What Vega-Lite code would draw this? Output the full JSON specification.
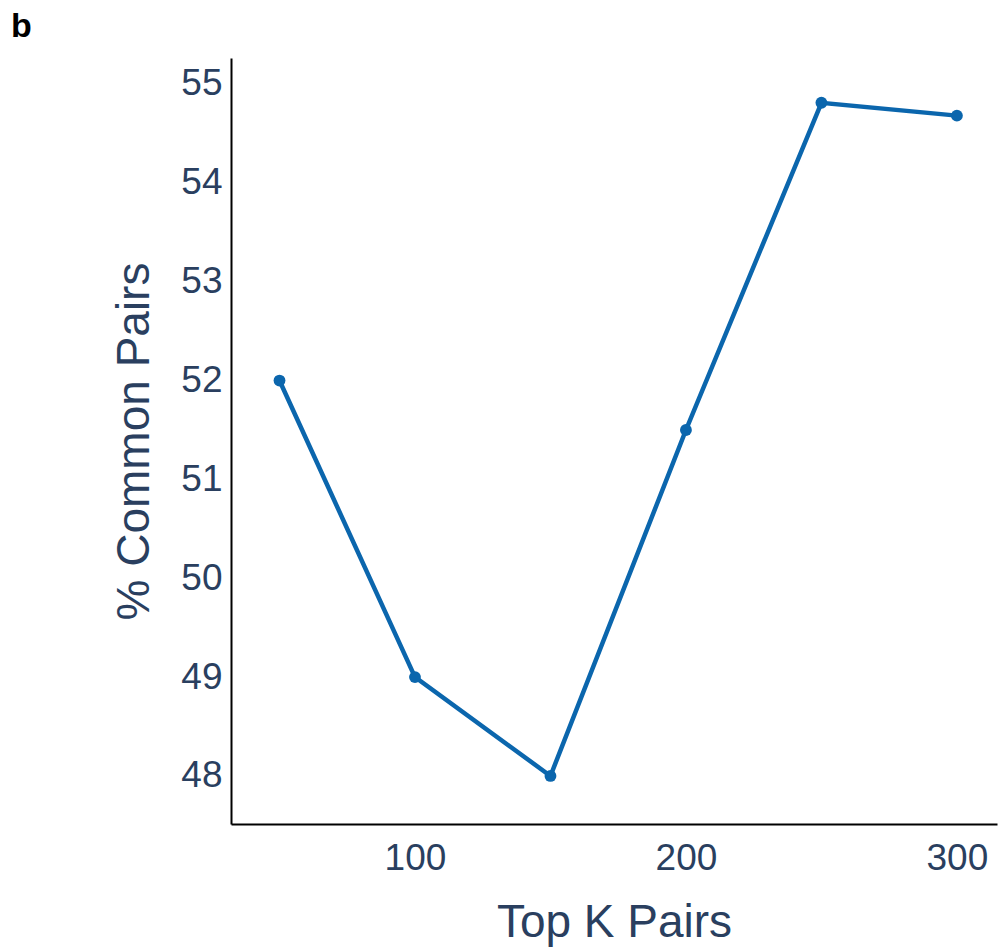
{
  "$schema": "https://vega.github.io/schema/vega-lite/v6.json",
  "autosize": "none",
  "width": 766,
  "height": 766,
  "padding": {"left": 231, "top": 58, "right": 1, "bottom": 124},
  "background": "white",
  "title": {
    "text": "b",
    "anchor": "start",
    "frame": "group",
    "dx": -220,
    "offset": 20,
    "dy": 6,
    "fontSize": 34,
    "font": "Liberation Sans",
    "fontWeight": "bold",
    "color": "black"
  },
  "config": {
    "view": {"stroke": null},
    "axis": {
      "domainColor": "black",
      "domainWidth": 2,
      "ticks": false,
      "grid": false,
      "labelFont": "Liberation Sans",
      "labelFontSize": 37,
      "labelColor": "#2a3f5f",
      "titleFont": "Liberation Sans",
      "titleFontSize": 46,
      "titleFontWeight": "normal",
      "titleColor": "#2a3f5f"
    }
  },
  "data": {
    "values": [
      {"k": 50, "pct": 52.0},
      {"k": 100, "pct": 49.0},
      {"k": 150, "pct": 48.0},
      {"k": 200, "pct": 51.5},
      {"k": 250, "pct": 54.81},
      {"k": 300, "pct": 54.68}
    ]
  },
  "encoding": {
    "x": {
      "field": "k",
      "type": "quantitative",
      "scale": {"domain": [32.1, 314.8], "nice": false, "zero": false},
      "axis": {"title": "Top K Pairs", "values": [100, 200, 300], "labelPadding": 16, "titlePadding": 24}
    },
    "y": {
      "field": "pct",
      "type": "quantitative",
      "scale": {"domain": [47.514, 55.263], "nice": false, "zero": false},
      "axis": {"title": "% Common Pairs", "values": [48, 49, 50, 51, 52, 53, 54, 55], "labelPadding": 9, "titlePadding": 22}
    }
  },
  "layer": [
    {"mark": {"type": "line", "color": "#0b66ad", "strokeWidth": 4.5}},
    {"mark": {"type": "point", "filled": true, "color": "#0b66ad", "opacity": 1, "size": 140}}
  ]
}
